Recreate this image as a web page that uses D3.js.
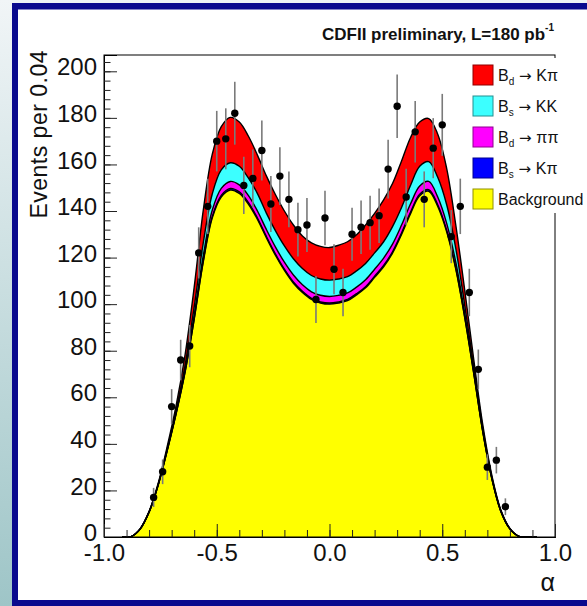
<!DOCTYPE html>
<html><head><meta charset="utf-8">
<script src="https://cdn.jsdelivr.net/npm/d3@7"></script>
<style>body{margin:0;background:#fff;} svg{display:block;font-family:"Liberation Sans",Arial,Helvetica,sans-serif;}</style>
</head><body><svg id="c" width="587" height="606"></svg>
<script>
// ---- data ----
const gridX = [-0.92,-0.88,-0.84,-0.80,-0.76,-0.72,-0.68,-0.64,-0.60,-0.56,-0.52,-0.48,-0.44,-0.40,-0.36,-0.32,-0.28,-0.24,-0.20,-0.16,-0.12,-0.08,-0.04,0,
  0.04,0.08,0.12,0.16,0.20,0.24,0.28,0.32,0.36,0.40,0.44,0.48,0.52,0.56,0.60,0.64,0.68,0.72,0.76,0.80,0.84,0.88,0.92];
const background = [0,0.2,3.4,10.7,22.2,37,53,71,93.5,118,137,146,149,147.5,143,136.5,128.5,121,114.5,109,105,102,100.5,100,
  100.5,101.5,104,107,111.5,116,122,130,139,146.5,148.5,142,131,115,94,70,45,25,11,3.5,0.3,0,0];
const bsKpi = [0,0,0,0,0,0.05,0.1,0.2,0.3,0.5,0.6,0.7,0.7,0.7,0.7,0.6,0.6,0.6,0.5,0.5,0.5,0.5,0.5,0.5,
  0.5,0.5,0.5,0.5,0.5,0.6,0.6,0.7,0.7,0.7,0.7,0.7,0.6,0.5,0.3,0.2,0.1,0.05,0,0,0,0,0];
const bdPiPi = [0,0,0,0,0.1,0.2,0.4,0.8,1.5,2.2,2.7,3,3,3,3,3,3,3,3,3,2.8,2.8,2.8,2.8,
  2.8,2.8,2.8,3,3,3.2,3.3,3.4,3.5,3.5,3.5,3.3,3,2.5,1.5,0.8,0.4,0.2,0.1,0,0,0,0];
const bsKK = [0,0,0,0.1,0.2,0.5,1,2,3.5,5.5,7,8,8,8,7.5,7.5,7,7,7,7,7,7,7,7,
  7,7,7,7,7,7,7.5,7.5,8,8.5,8.5,8.5,8,6,3.5,2,1,0.5,0.2,0.1,0,0,0];
const bdKpi = [0,0,0.1,0.2,0.5,1,2,4.5,8.5,14,17,18.5,19.5,19,18,16.5,16,15.5,15,14.5,14,14,14,14,
  14.5,15,15.5,16.5,17,18,18.5,20,20.5,19,18.5,18.5,15.5,10,6.5,3,1.5,0.7,0.3,0.1,0,0,0];

const binCenters = [-0.78,-0.74,-0.70,-0.66,-0.62,-0.58,-0.54,-0.50,-0.46,-0.42,-0.38,-0.34,-0.30,-0.26,-0.22,-0.18,-0.14,-0.10,-0.06,-0.02,
  0.02,0.06,0.10,0.14,0.18,0.22,0.26,0.30,0.34,0.38,0.42,0.46,0.50,0.54,0.58,0.62,0.66,0.70,0.74,0.78];
const counts = [17,28,56,76,82,122,142,170,171,182,151,154,166,143,155,145,132,134,102,137,
  115,105,130,133,135,138,158,185,146,174,145,167,177,129,142,105,72,30,33,13];
const errors = [4.1,5.3,7.5,8.7,9.1,11,11.9,13,13.1,13.5,12.3,12.4,12.9,12,12.4,12,11.5,11.6,10.1,11.7,
  10.7,10.2,11.4,11.5,11.6,11.7,12.6,13.6,12.1,13.2,12,12.9,13.3,11.4,11.9,10.2,8.5,5.5,5.7,3.6];

const yTicks = [0,20,40,60,80,100,120,140,160,180,200];
const xTicks = [-1,-0.5,0,0.5,1];
const xTickLabels = ["-1.0","-0.5","0.0","0.5","1.0"];
const legendItems = [
  {key:"bdKpi", sub:"d", rest:"K\u03c0"},
  {key:"bsKK", sub:"s", rest:"KK"},
  {key:"bdPiPi", sub:"d", rest:"\u03c0\u03c0"},
  {key:"bsKpi", sub:"s", rest:"K\u03c0"},
  {key:"bg", sub:null, rest:"Background"}
];
const colors = {bg:"#ffff00", bsKpi:"#0000ff", bdPiPi:"#ff00ff", bsKK:"#3cffff", bdKpi:"#ff0000"};

// ---- drawing ----
const W=587,H=606;
const svg=d3.select("#c");
const x=d3.scaleLinear().domain([-1,1]).range([104,555]);
const y=d3.scaleLinear().domain([0,207]).range([537,55]);

const defs=svg.append("defs");
const lg=defs.append("linearGradient").attr("id","side").attr("x1",0).attr("y1",0).attr("x2",0).attr("y2",1);
lg.append("stop").attr("offset",0).attr("stop-color","#f1f5f7");
lg.append("stop").attr("offset",1).attr("stop-color","#9ec5c7");
defs.append("clipPath").attr("id","plotclip").append("rect")
  .attr("x",x(-1)).attr("y",y(207)).attr("width",x(1)-x(-1)).attr("height",y(0)-y(207));

svg.append("rect").attr("width",W).attr("height",H).attr("fill","#fff");
svg.append("rect").attr("x",0).attr("y",0).attr("width",13).attr("height",H).attr("fill","url(#side)");
svg.append("rect").attr("x",12).attr("y",0).attr("width",W-12).attr("height",4).attr("fill","#eef3f5");
const blue="#0a0a8e";
svg.append("rect").attr("x",12).attr("y",3).attr("width",W-12).attr("height",6.5).attr("fill",blue);
svg.append("rect").attr("x",12).attr("y",3).attr("width",6).attr("height",H-3).attr("fill",blue);
svg.append("rect").attr("x",12).attr("y",600).attr("width",W-12).attr("height",6).attr("fill",blue);

// stacked components
const keys=["bg","bsKpi","bdPiPi","bsKK","bdKpi"];
const rows=gridX.map((a,i)=>({a,bg:background[i],bsKpi:bsKpi[i],bdPiPi:bdPiPi[i],bsKK:bsKK[i],bdKpi:bdKpi[i]}));
const series=d3.stack().keys(keys)(rows);
const curve=d3.curveCatmullRom.alpha(0.5);
const area=d3.area().x(d=>x(d.data.a)).y0(d=>y(d[0])).y1(d=>y(d[1])).curve(curve);
const line=d3.line().x(d=>x(d.data.a)).y(d=>y(d[1])).curve(curve);

const gp=svg.append("g").attr("clip-path","url(#plotclip)");
gp.selectAll("path.area").data(series).join("path").attr("class","area")
  .attr("d",area).attr("fill",s=>colors[s.key]);
gp.selectAll("path.ln").data(series).join("path").attr("class","ln")
  .attr("d",line).attr("fill","none").attr("stroke","#000").attr("stroke-width",1.4);

// frame
svg.append("rect").attr("x",x(-1)).attr("y",y(207)).attr("width",x(1)-x(-1)).attr("height",y(0)-y(207))
  .attr("fill","none").attr("stroke","#000").attr("stroke-width",1);

// axes
const fs=24;
svg.append("g").attr("class","yax").attr("transform",`translate(${x(-1)},0)`)
  .call(d3.axisLeft(y).tickValues(yTicks).tickSize(-13).tickPadding(7).tickFormat(d3.format("d")));
svg.append("g").attr("transform",`translate(${x(-1)},0)`)
  .call(d3.axisLeft(y).tickValues(d3.range(0,207,4)).tickSize(-6.5).tickFormat(""));
svg.append("g").attr("transform",`translate(0,${y(0)})`)
  .call(d3.axisBottom(x).tickValues(xTicks).tickSize(-13).tickPadding(7).tickFormat((d,i)=>xTickLabels[i]));
svg.append("g").attr("transform",`translate(0,${y(0)})`)
  .call(d3.axisBottom(x).tickValues(d3.range(-10,11).map(k=>k/10)).tickSize(-7).tickFormat(""));
svg.selectAll(".domain").attr("stroke","#000");
svg.selectAll(".tick line").attr("stroke","#222");
svg.selectAll(".tick text").attr("font-size",fs).attr("fill","#111").attr("font-family","'Liberation Sans',Arial,sans-serif");
svg.selectAll(".yax .tick text").attr("dy","0.15em");

// data points
const gd=svg.append("g");
gd.selectAll("line").data(binCenters).join("line")
  .attr("x1",d=>x(d)).attr("x2",d=>x(d))
  .attr("y1",(d,i)=>y(counts[i]-errors[i])).attr("y2",(d,i)=>y(counts[i]+errors[i]))
  .attr("stroke","#7a7a7a").attr("stroke-width",1.6);
gd.selectAll("circle").data(binCenters).join("circle")
  .attr("cx",d=>x(d)).attr("cy",(d,i)=>y(counts[i])).attr("r",3.7).attr("fill","#000");

// legend
const lgX=473, lgY0=65, lgStep=31;
svg.append("rect").attr("x",466).attr("y",58).attr("width",W-466).attr("height",155).attr("fill","#fff");
const lgG=svg.append("g");
legendItems.forEach((it,i)=>{
  const yy=lgY0+i*lgStep;
  lgG.append("rect").attr("x",lgX).attr("y",yy).attr("width",20).attr("height",20)
    .attr("fill",colors[it.key]).attr("stroke",d3.color(colors[it.key]).darker(1.6)).attr("stroke-width",1);
  const t=lgG.append("text").attr("x",lgX+25).attr("y",yy+16).attr("font-size",16).attr("fill","#111");
  if(it.sub){
    t.append("tspan").text("B");
    t.append("tspan").attr("font-size",10).attr("dy",4).text(it.sub);
    t.append("tspan").attr("dy",-4).attr("font-family","'DejaVu Sans',sans-serif").attr("font-size",15).text(" \u2192 ");
    t.append("tspan").text(it.rest);
  } else t.text(it.rest);
});

// title & labels
const tt=svg.append("text").attr("x",554).attr("y",40).attr("text-anchor","end")
  .attr("font-size",17).attr("font-weight","bold").attr("fill","#111");
tt.append("tspan").text("CDFII preliminary, L=180 pb");
tt.append("tspan").attr("font-size",10).attr("dy",-9).text("-1");

svg.append("text").attr("transform","translate(47,50) rotate(-90)").attr("text-anchor","end")
  .attr("font-size",23).attr("letter-spacing","0.5").attr("fill","#111").text("Events per 0.04");
svg.append("text").attr("x",555).attr("y",591).attr("text-anchor","end")
  .attr("font-size",25).attr("fill","#111").text("\u03b1");
</script></body></html>
